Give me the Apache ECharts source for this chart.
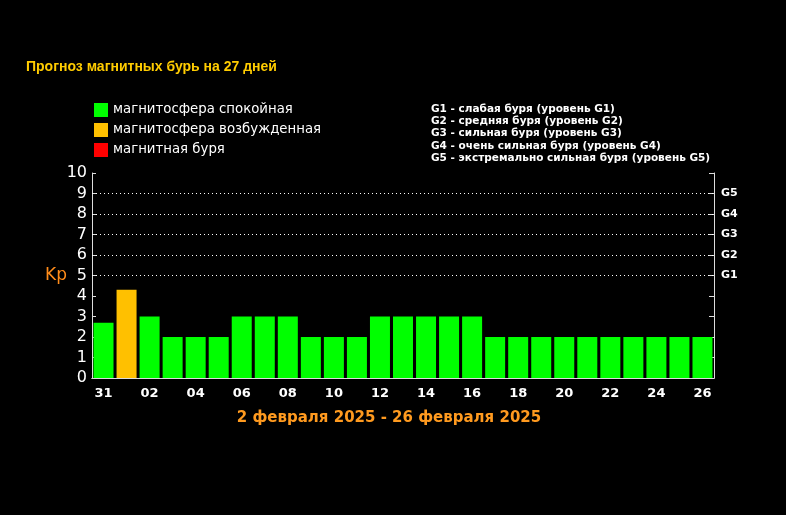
<!DOCTYPE html>
<html>
<head>
<meta charset="utf-8">
<script src="https://cdn.jsdelivr.net/npm/echarts@6/dist/echarts.min.js"></script>
<style>
  html, body { margin: 0; padding: 0; background: #000; }
  #chart { width: 786px; height: 515px; }
</style>
</head>
<body>
<div id="chart"></div>
<script>
  // дни прогноза (31 января - 26 февраля)
  const days = ['31', '01', '02', '03', '04', '05', '06', '07', '08', '09', '10', '11', '12', '13',
    '14', '15', '16', '17', '18', '19', '20', '21', '22', '23', '24', '25', '26'];
  // индекс Kp
  const kp = [2.7, 4.3, 3, 2, 2, 2, 3, 3, 3, 2, 2, 2, 3, 3, 3, 3, 3, 2, 2, 2, 2, 2, 2, 2, 2, 2, 2];
  const yTicks = [0, 1, 2, 3, 4, 5, 6, 7, 8, 9, 10];
  const gridLevels = [5, 6, 7, 8, 9];
  const gNames = ['G1', 'G2', 'G3', 'G4', 'G5'];
  const stateNames = ['магнитосфера спокойная', 'магнитосфера возбужденная', 'магнитная буря'];
  const gLegend = [
    'G1 - слабая буря (уровень G1)',
    'G2 - средняя буря (уровень G2)',
    'G3 - сильная буря (уровень G3)',
    'G4 - очень сильная буря (уровень G4)',
    'G5 - экстремально сильная буря (уровень G5)'
  ];
  const colors = ['#00ff00', '#ffc000', '#ff0000'];

  // раскладываем Kp по состояниям магнитосферы
  const quiet = kp.map(v => v < 4 ? v : '-');
  const excited = kp.map(v => v >= 4 && v < 5 ? v : '-');
  const storm = kp.map(v => v >= 5 ? v : '-');

  let chart = echarts.init(document.getElementById('chart'));
  chart.setOption({
    backgroundColor: '#000',
    animation: false,
    title: [{
      text: 'Прогноз магнитных бурь на 27 дней',
      left: 21, top: 55,
      textStyle: { color: '#ffcc00', fontFamily: 'Liberation Sans', fontWeight: 'bold', fontSize: 14 }
    }, {
      text: gLegend.join('\n'),
      left: 426, top: 98,
      textStyle: { color: '#fff', fontFamily: 'DejaVu Sans', fontWeight: 'bold', fontSize: 10.5, lineHeight: 12.3 }
    }, {
      text: '2 февраля 2025 - 26 февраля 2025',
      left: 384, top: 406, textAlign: 'center',
      textStyle: { color: '#ff9a1f', fontFamily: 'DejaVu Sans', fontWeight: 'bold', fontSize: 15 }
    }],
    legend: {
      orient: 'vertical',
      left: 89, top: 98,
      itemWidth: 14, itemHeight: 14, itemGap: 6,
      icon: 'rect',
      data: stateNames,
      selectedMode: false,
      textStyle: { color: '#fff', fontFamily: 'DejaVu Sans', fontSize: 13.3 }
    },
    grid: { left: 92, right: 72, top: 173, bottom: 137 },
    xAxis: [{
      type: 'category',
      data: days,
      position: 'bottom',
      axisLine: { lineStyle: { color: '#ddd', width: 1 } },
      axisTick: { inside: true, length: 4, lineStyle: { color: '#aaa' } },
      axisLabel: { color: '#fff', fontFamily: 'DejaVu Sans', fontWeight: 'bold', fontSize: 13, margin: 9, interval: 1 }
    }, {
      type: 'category',
      data: days,
      position: 'top',
      axisLine: { lineStyle: { color: '#ddd', width: 1 } },
      axisTick: { inside: true, length: 5, lineStyle: { color: '#ddd' } },
      axisLabel: { show: false }
    }],
    yAxis: [{
      type: 'value',
      min: 0, max: 10, interval: 1,
      name: 'Kp',
      nameLocation: 'middle',
      nameRotate: 0,
      nameGap: 25,
      nameMoveOverlap: false,
      nameTextStyle: { color: '#ff8c1a', fontFamily: 'DejaVu Sans', fontSize: 17 },
      axisLine: { show: true, lineStyle: { color: '#ddd', width: 1 } },
      axisTick: { show: true, inside: true, length: 4, lineStyle: { color: '#ddd' } },
      axisLabel: {
        color: '#fff', fontFamily: 'DejaVu Sans', fontSize: 16, margin: 5,
        formatter: v => yTicks.indexOf(v) >= 0 ? String(v) : ''
      },
      splitLine: { show: false }
    }, {
      type: 'value',
      position: 'right',
      min: 0, max: 10, interval: 1,
      axisLine: { show: true, lineStyle: { color: '#ddd', width: 1 } },
      axisTick: { show: true, inside: true, length: 5, lineStyle: { color: '#ddd' } },
      axisLabel: {
        color: '#fff', fontFamily: 'DejaVu Sans', fontWeight: 'bold', fontSize: 11, margin: 7,
        formatter: v => {
          let i = gridLevels.indexOf(v);
          return i >= 0 ? gNames[i] : '';
        }
      },
      splitLine: { show: false }
    }],
    series: [{
      name: stateNames[0],
      type: 'bar',
      stack: 'kp',
      barWidth: 20,
      data: quiet,
      itemStyle: { color: colors[0] },
      markLine: {
        silent: true,
        symbol: 'none',
        label: { show: false },
        lineStyle: { color: '#fff', type: [1, 3], width: 1 },
        data: gridLevels.map(v => ({ yAxis: v }))
      }
    }, {
      name: stateNames[1],
      type: 'bar',
      stack: 'kp',
      barWidth: 20,
      data: excited,
      itemStyle: { color: colors[1] }
    }, {
      name: stateNames[2],
      type: 'bar',
      stack: 'kp',
      barWidth: 20,
      data: storm,
      itemStyle: { color: colors[2] }
    }]
  });
</script>
</body>
</html>
